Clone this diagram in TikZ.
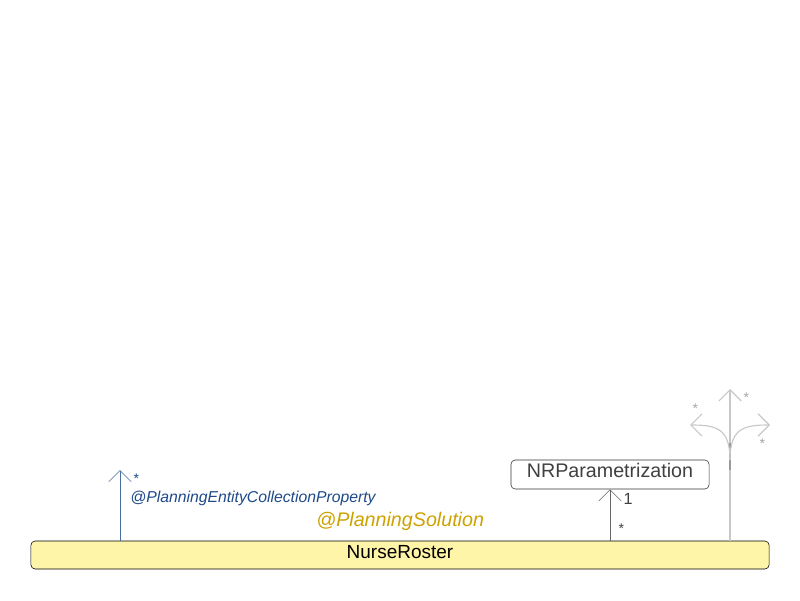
\documentclass[tikz,border=0pt]{standalone}
\usepackage{fontspec}
\setmainfont{Liberation Sans}
\usepackage{tikz}
\usetikzlibrary{arrows.meta,positioning}

\definecolor{rosterfill}{HTML}{FFF5A8}
\definecolor{entblue}{HTML}{4A6EA0}
\definecolor{enttext}{HTML}{1F4A8A}
\definecolor{solgold}{HTML}{CCA300}
\definecolor{faint}{HTML}{C8C8C8}

\begin{document}
\begin{tikzpicture}[x=0.025cm, y=-0.025cm,
  box/.style={draw, rounded corners=3pt, align=center, inner sep=0pt},
  roster/.style={box, fill=rosterfill, minimum width=18.45cm, minimum height=0.7cm,
                 text depth=0.15cm, font=\fontsize{13.5}{15}\selectfont},
  param/.style={box, draw=black!80, fill=white, text=black!75, minimum width=4.95cm,
                minimum height=0.725cm, text depth=0.19cm, font=\fontsize{14}{16}\selectfont},
  open/.style={-{Straight Barb[length=2.8mm, width=5.6mm]}},
  mult/.style={font=\fontsize{10}{12}\selectfont, inner sep=1pt},
  ann/.style={font=\fontsize{11.2}{13}\selectfont\itshape, inner sep=0pt},
]

% --- Frame ---
\useasboundingbox[fill=white] (0,0) rectangle (800,600);

% --- Classes ---
\node[roster] (roster) at (400,555) {NurseRoster};
\node[param] (nrparam) at (610,474.5) {NRParametrization};

% --- Solution annotation ---
\node[ann, text=solgold, font=\fontsize{14}{16}\selectfont\itshape, anchor=west]
  (solution) at (316,521) {@PlanningSolution};

% --- Entity collection ---
\coordinate (entTip) at (120,470);
\draw[open, entblue] (roster.north -| entTip) -- (entTip);
\node[mult, text=enttext, anchor=west] (entStar) at (132,479) {*};
\node[ann, text=enttext, anchor=west] (entLabel) at (130,498)
  {@PlanningEntityCollectionProperty};

% --- Parametrization link ---
\draw[open, black!60] (roster.north -| nrparam.south) -- (nrparam.south);
\node[mult, text=black!75, font=\fontsize{11.5}{13}\selectfont, anchor=west]
  (paramOne) at (622,499) {1};
\node[mult, text=black!75, anchor=west] (paramStar) at (617,529) {*};

% --- Faded fan ---
\coordinate (fanBase) at (730,460);
\coordinate (fanTop) at (730,389);
\coordinate (fanLeft) at (690,425);
\coordinate (fanRight) at (770,425);
\draw[faint, thick] (roster.north -| fanTop) -- (fanBase);
\draw[open, faint, thick] (fanBase) -- (fanTop);
\draw[black!40, thick] (730,443) -- (730,470);
\draw[open, faint, thick] (fanBase) .. controls (730,428) and (716,425) .. (fanLeft);
\draw[open, faint, thick] (fanBase) .. controls (730,428) and (744,425) .. (fanRight);
\node[mult, text=black!35, anchor=west] (fanStarA) at (691,409) {*};
\node[mult, text=black!35, anchor=west] (fanStarB) at (742,398) {*};
\node[mult, text=black!35, anchor=west] (fanStarC) at (758,444) {*};

\end{tikzpicture}
\end{document}
